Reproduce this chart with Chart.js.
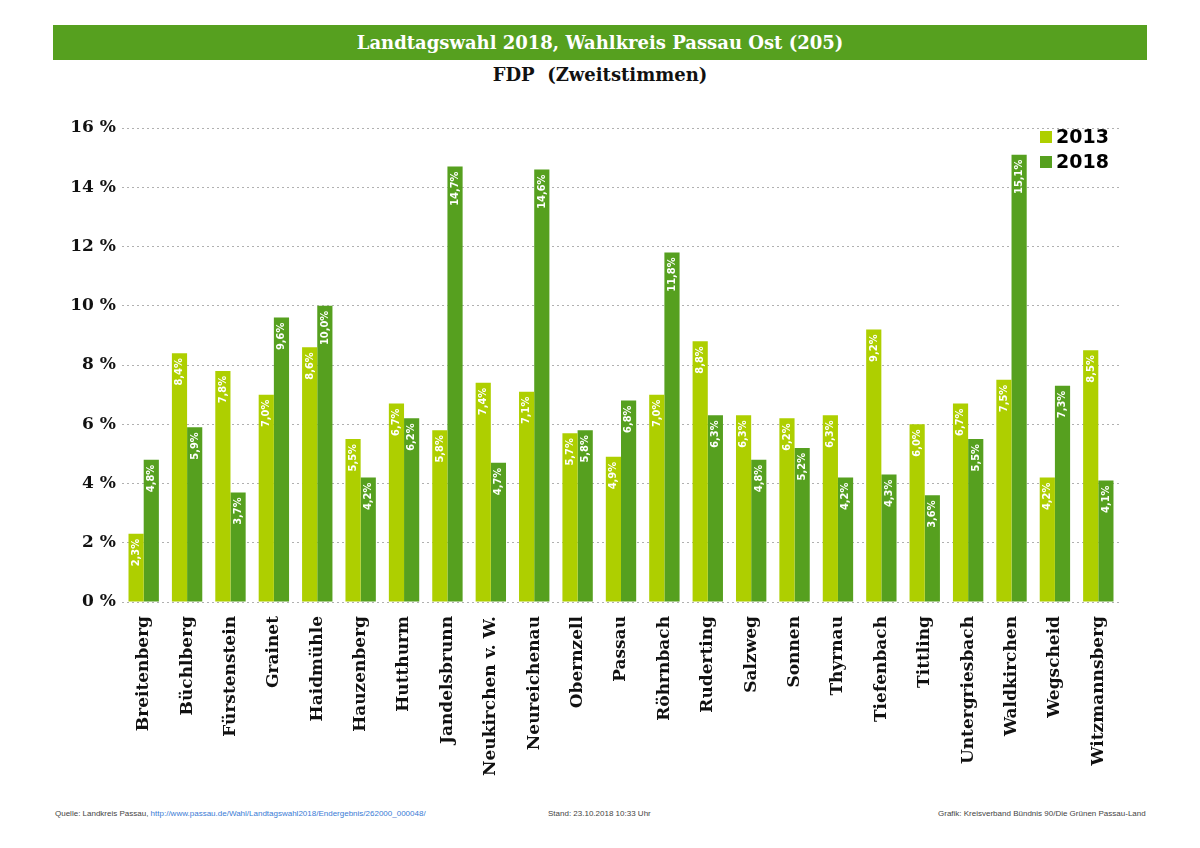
<!DOCTYPE html>
<html>
<head>
<meta charset="utf-8">
<script src="https://cdn.jsdelivr.net/npm/chart.js@4"></script>
<style>
  body { margin: 0; width: 1200px; height: 848px; background: #fff; position: relative; overflow: hidden; }
  #kopf { position: absolute; left: 53px; top: 25px; width: 1094px; height: 35px; background: #56A01F;
          color: #fff; font: bold 18px "DejaVu Serif"; text-align: center; line-height: 35px; }
  #unter { position: absolute; left: 0; top: 64px; width: 1200px; text-align: center;
           font: bold 18px "DejaVu Serif"; color: #111; }
  #box { position: absolute; left: 0; top: 100px; width: 1200px; height: 700px; }
  .fuss { position: absolute; top: 809px; font: 8px "Liberation Sans"; color: #444; }
  .fuss a { color: #3a7bd5; text-decoration: none; }
</style>
</head>
<body>
<div id="kopf">Landtagswahl 2018, Wahlkreis Passau Ost (205)</div>
<div id="unter">FDP&nbsp; (Zweitstimmen)</div>
<div id="box"><canvas id="myChart"></canvas></div>
<div class="fuss" style="left:55px">Quelle: Landkreis Passau, <a>http://www.passau.de/Wahl/Landtagswahl2018/Endergebnis/262000_000048/</a></div>
<div class="fuss" style="left:548px">Stand: 23.10.2018 10:33 Uhr</div>
<div class="fuss" style="left:938px">Grafik: Kreisverband Bündnis 90/Die Grünen Passau-Land</div>
<script>
//gemeinden (kategorien)
const gemeinden = ["Breitenberg", "Büchlberg", "Fürstenstein", "Grainet", "Haidmühle", "Hauzenberg", "Hutthurm",
    "Jandelsbrunn", "Neukirchen v. W.", "Neureichenau", "Obernzell", "Passau", "Röhrnbach", "Ruderting",
    "Salzweg", "Sonnen", "Thyrnau", "Tiefenbach", "Tittling", "Untergriesbach", "Waldkirchen", "Wegscheid",
    "Witzmannsberg"]
//ergebnisse in prozent
const werte2013 = [2.3, 8.4, 7.8, 7.0, 8.6, 5.5, 6.7, 5.8, 7.4, 7.1, 5.7, 4.9, 7.0, 8.8, 6.3, 6.2, 6.3, 9.2, 6.0, 6.7, 7.5, 4.2, 8.5]
const werte2018 = [4.8, 5.9, 3.7, 9.6, 10.0, 4.2, 6.2, 14.7, 4.7, 14.6, 5.8, 6.8, 11.8, 6.3, 4.8, 5.2, 4.2, 4.3, 3.6, 5.5, 15.1, 7.3, 4.1]
const jahre = ["2013", "2018"]
const yTicks = [0, 2, 4, 6, 8, 10, 12, 14, 16]

const farben = ['#AECF00', '#56A01F']

//schreibt die werte gedreht in die balken
const wertePlugin = {
    id: 'werte',
    afterDatasetsDraw(chart) {
        const ctx = chart.ctx
        ctx.save()
        ctx.fillStyle = '#fff'
        ctx.font = 'bold 11px "DejaVu Sans Condensed", "DejaVu Sans"'
        ctx.textAlign = 'right'
        ctx.textBaseline = 'middle'
        chart.data.datasets.forEach(function (ds, i) {
            chart.getDatasetMeta(i).data.forEach(function (bar, j) {
                const txt = ds.data[j].toFixed(1).replace('.', ',') + '%'
                ctx.save()
                ctx.translate(bar.x, bar.y + 5)
                ctx.rotate(-Math.PI / 2)
                ctx.fillText(txt, 0, 0)
                ctx.restore()
            })
        })
        ctx.restore()
    }
}

//legende oben rechts im diagramm
const legendePlugin = {
    id: 'legende',
    afterDraw(chart) {
        const ctx = chart.ctx
        const x = chart.chartArea.right - 80
        ctx.save()
        ctx.font = 'bold 19px "DejaVu Sans"'
        ctx.textBaseline = 'middle'
        chart.data.datasets.forEach(function (ds, i) {
            const y = chart.chartArea.top + 9 + i * 25
            ctx.fillStyle = ds.backgroundColor
            ctx.fillRect(x, y - 6, 12, 12)
            ctx.fillStyle = '#000'
            ctx.fillText(ds.label, x + 16, y + 1)
        })
        ctx.restore()
    }
}

const ctx = document.getElementById('myChart').getContext('2d')
let chart = new Chart(ctx, {
    type: 'bar',
    data: {
        labels: gemeinden,
        datasets: [{
            label: jahre[0],
            data: werte2013,
            backgroundColor: farben[0]
        },
        {
            label: jahre[1],
            data: werte2018,
            backgroundColor: farben[1]
        }]
    },
    options: {
        responsive: true,
        maintainAspectRatio: false,
        animation: false,
        categoryPercentage: 0.7,
        barPercentage: 1.0,
        layout: { padding: { left: 0, right: 80, top: 28, bottom: 0 } },
        plugins: {
            legend: { display: false },
            tooltip: { enabled: false }
        },
        scales: {
            x: {
                grid: { display: false },
                border: { display: false },
                afterFit: function (scale) { scale.height = 198 },
                ticks: {
                    color: '#111',
                    maxRotation: 90,
                    minRotation: 90,
                    autoSkip: false,
                    padding: 6,
                    font: { family: 'DejaVu Serif', weight: 'bold', size: 17 }
                }
            },
            y: {
                min: 0,
                max: 16,
                afterFit: function (scale) { scale.width = 122 },
                afterBuildTicks: function (scale) { scale.ticks = yTicks.map(v => ({ value: v })) },
                border: { display: false, dash: [2, 3] },
                grid: { color: '#b0b0b0', lineWidth: 1, drawTicks: false },
                ticks: {
                    color: '#111',
                    padding: 6,
                    font: { family: 'DejaVu Serif', weight: 'bold', size: 17 },
                    callback: function (v) { return v + ' %' }
                }
            }
        }
    },
    plugins: [wertePlugin, legendePlugin]
})
</script>
</body>
</html>
